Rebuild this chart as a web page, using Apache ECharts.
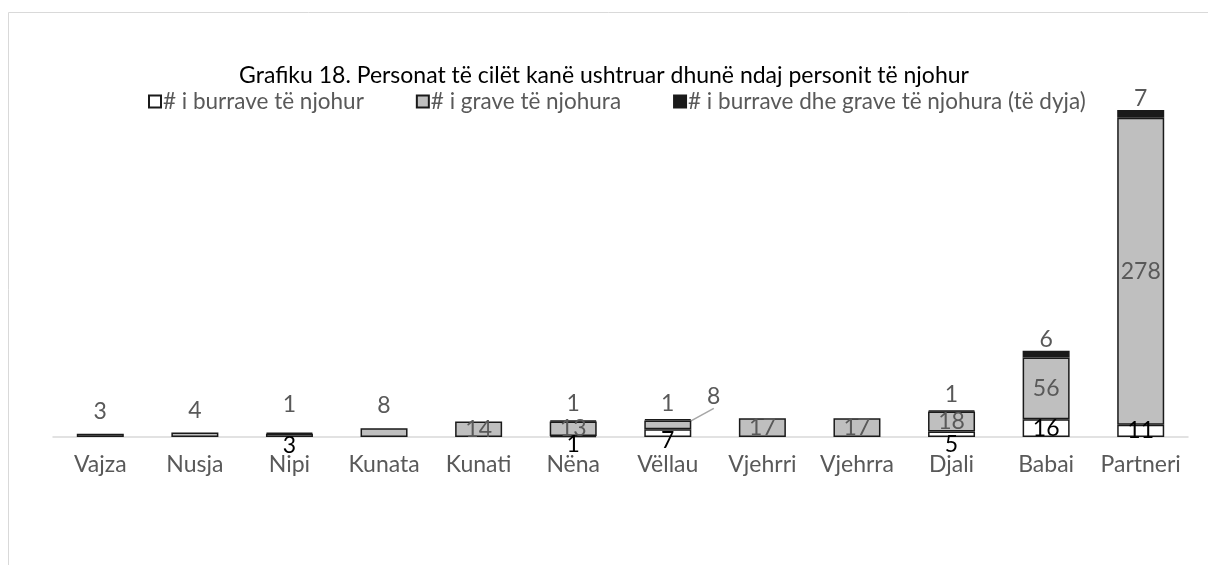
<!DOCTYPE html>
<html>
<head>
<meta charset="utf-8">
<script src="https://cdn.jsdelivr.net/npm/echarts@6/dist/echarts.min.js"></script>
<style>
  html, body { margin: 0; padding: 0; background: #fff; }
  #chart { width: 1208px; height: 565px; }
</style>
</head>
<body>
<div id="chart"></div>
<script>
// kategoritë dhe vlerat
var categories = ['Vajza', 'Nusja', 'Nipi', 'Kunata', 'Kunati', 'Nëna', 'Vëllau', 'Vjehrri', 'Vjehrra', 'Djali', 'Babai', 'Partneri'];
var burra = [0, 0, 3, 0, 0, 1, 7, 0, 0, 5, 16, 11];
var gra = [3, 4, 0, 8, 14, 13, 8, 17, 17, 18, 56, 278];
var teDyja = [0, 0, 1, 0, 0, 1, 1, 0, 0, 1, 6, 7];

var font = 'Lato, "Open Sans", sans-serif';
var gray = '#595959';
var fs = 23;

var myChart = echarts.init(document.getElementById('chart'));

// etiketat e grave qe dalin mbi shtylle
var graJashte = ['Vajza', 'Nusja', 'Kunata'];
// etiketat e burrave brenda shtylles
var burraBrenda = ['Babai', 'Partneri'];
// largesia e etiketave te "te dyja"
var dyjaDist = { Nipi: 16, 'Nëna': 5, 'Vëllau': 4, Djali: 4 };

function zero(v) { return v === 0 ? '-' : v; }

var option = {
  animation: false,
  textStyle: { fontFamily: font },
  title: {
    text: 'Grafiku 18. Personat të cilët kanë ushtruar dhunë ndaj personit të njohur',
    left: 'center',
    top: 59,
    textStyle: { color: '#000', fontWeight: 'normal', fontSize: 23, fontFamily: font }
  },
  legend: {
    top: 85,
    left: 143,
    itemWidth: 12,
    itemHeight: 12,
    itemGap: 52,
    icon: 'rect',
    textStyle: { color: gray, fontSize: 22.5, fontFamily: font, padding: [0, 0, 0, -3] },
    data: ['# i burrave të njohur', '# i grave të njohura', '# i burrave dhe grave të njohura (të dyja)']
  },
  graphic: [{
    type: 'rect',
    silent: true,
    shape: { x: 8.5, y: 12.5, width: 1300, height: 700 },
    style: { fill: 'none', stroke: '#d9d9d9', lineWidth: 1 }
  }],
  grid: { left: 53, right: 20, top: 105.5, bottom: 128 },
  xAxis: {
    type: 'category',
    data: categories,
    axisLine: { lineStyle: { color: '#d9d9d9', width: 1.5 } },
    axisTick: { show: false },
    axisLabel: { color: gray, fontSize: fs, margin: 16, interval: 0, fontFamily: font }
  },
  yAxis: {
    type: 'value',
    min: 0,
    max: 300,
    show: false,
    splitLine: { show: false }
  },
  series: [
    {
      name: '# i burrave të njohur',
      type: 'bar',
      stack: 'total',
      barWidth: 47,
      data: burra.map(function (v, i) {
        var item = { value: zero(v) };
        if (burraBrenda.indexOf(categories[i]) >= 0) {
          item.label = { position: 'inside' };
        } else if (categories[i] === 'Vëllau') {
          item.label = { distance: -8 };
        } else if (categories[i] === 'Nipi') {
          item.label = { distance: -3 };
        }
        return item;
      }),
      itemStyle: { color: '#fff', borderColor: '#1a1a1a', borderWidth: 1.5 },
      label: {
        show: true,
        color: '#000',
        fontSize: fs,
        fontFamily: font,
        position: 'bottom',
        distance: -4
      }
    },
    {
      name: '# i grave të njohura',
      type: 'bar',
      stack: 'total',
      data: gra.map(function (v, i) {
        var item = { value: zero(v) };
        if (graJashte.indexOf(categories[i]) >= 0) {
          item.label = { position: 'top', distance: 11 };
        }
        if (categories[i] === 'Vëllau') {
          item.labelLine = { show: true };
        }
        return item;
      }),
      itemStyle: { color: '#bfbfbf', borderColor: '#1a1a1a', borderWidth: 1.5 },
      label: {
        show: true,
        color: gray,
        fontSize: fs,
        fontFamily: font,
        position: 'inside'
      },
      labelLine: { show: false, lineStyle: { color: '#a6a6a6', width: 1.5 } },
      labelLayout: function (p) {
        if (categories[p.dataIndex] === 'Vëllau') return { dx: 46, dy: -28 };
        return {};
      }
    },
    {
      name: '# i burrave dhe grave të njohura (të dyja)',
      type: 'bar',
      stack: 'total',
      data: teDyja.map(function (v, i) {
        var item = { value: zero(v) };
        var d = dyjaDist[categories[i]];
        if (d !== undefined) item.label = { distance: d };
        return item;
      }),
      itemStyle: { color: '#1a1a1a', borderColor: '#1a1a1a', borderWidth: 1.5 },
      label: {
        show: true,
        color: gray,
        fontSize: fs,
        fontFamily: font,
        position: 'top',
        distance: 0
      }
    }
  ]
};

myChart.setOption(option);
</script>
</body>
</html>
